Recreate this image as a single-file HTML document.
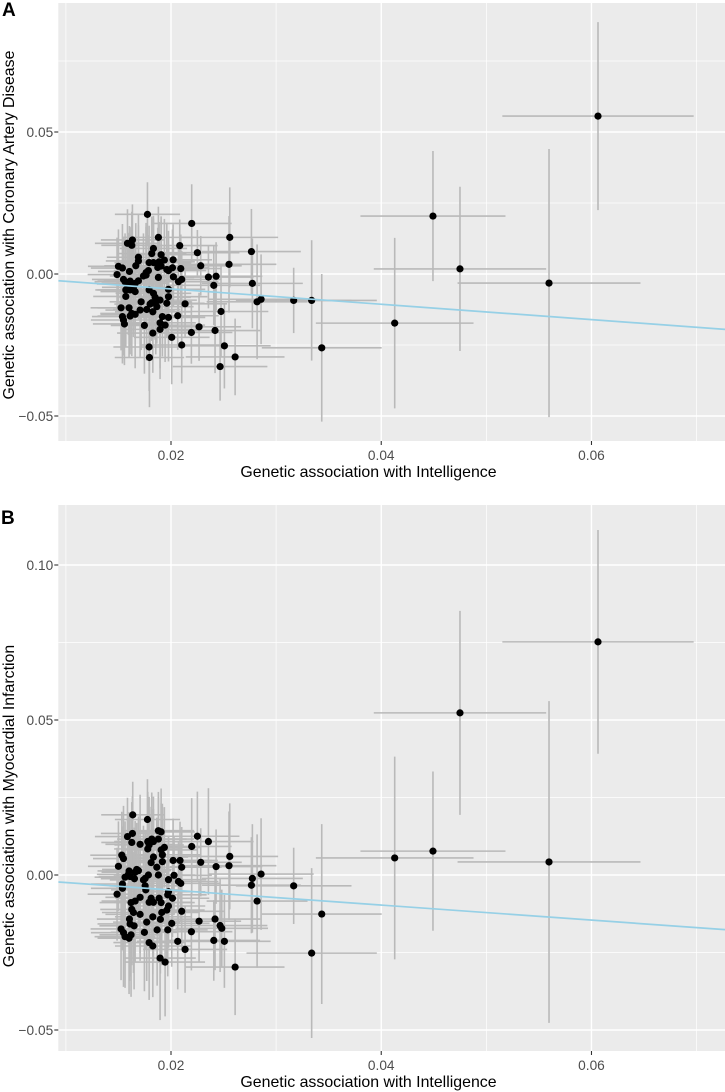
<!DOCTYPE html>
<html>
<head>
<meta charset="utf-8">
<title>Genetic association scatter plots</title>
<style>
html,body{margin:0;padding:0;background:#fff;width:725px;height:1092px;overflow:hidden}
svg{display:block}
text{font-family:"Liberation Sans",sans-serif}
.tick{font-size:13.7px;fill:#4D4D4D}
.title{font-size:15.9px;fill:#000}
.tag{font-size:19px;font-weight:bold;fill:#000}
</style>
</head>
<body>
<svg id="chart" width="725" height="1092" viewBox="0 0 725 1092" xmlns="http://www.w3.org/2000/svg">
<defs>
<clipPath id="clip-a"><rect x="58.3" y="3" width="666.7" height="438"/></clipPath>
<clipPath id="clip-b"><rect x="58.3" y="505" width="666.7" height="546"/></clipPath>
</defs>
<g id="panel-a"></g>
<g id="panel-b"></g>
<text class="tag" x="2" y="16">A</text>
<text class="tag" x="1" y="524">B</text>
<text class="title" x="368.5" y="477" text-anchor="middle">Genetic association with Intelligence</text>
<text class="title" x="368.5" y="1087" text-anchor="middle">Genetic association with Intelligence</text>
<text class="title" x="0" y="0" text-anchor="middle" transform="translate(14,225) rotate(-90)">Genetic association with Coronary Artery Disease</text>
<text class="title" x="0" y="0" text-anchor="middle" transform="translate(14,806) rotate(-90)">Genetic association with Myocardial Infarction</text>
</svg>
<script>
var xMajorTicks = [0.02, 0.04, 0.06];
var xMinorTicks = [0.01, 0.03, 0.05, 0.07];
var xTickLabels = ["0.02", "0.04", "0.06"];

var aYMajorTicks = [0.05, 0, -0.05];
var aYMinorTicks = [0.075, 0.025, -0.025];
var aYTickLabels = ["0.05", "0.00", "\u22120.05"];
var aSlope = -0.27;
var aIntercept = 0.00014;

var bYMajorTicks = [0.10, 0.05, 0, -0.05];
var bYMinorTicks = [0.075, 0.025, -0.025];
var bYTickLabels = ["0.10", "0.05", "0.00", "\u22120.05"];
var bSlope = -0.2425;
var bIntercept = 0;

var aX = [
.01776,.02197,.0188,.02559,.01633,.01586,.01627,.02083,.01833,.01817,
.02251,.02765,.01906,.0169,.0202,.01937,.01792,.01833,.01887,.0169,
.02552,.02283,.01665,.015,.01538,.01906,.01874,.02093,.02014,.0196,
.01976,.01605,.01785,.01763,.01487,.01738,.0188,.02023,.01763,.02356,
.02429,.02102,.02071,.01548,.01563,.01611,.0169,.01659,.01595,.02774,
.02407,.01643,.01611,.0157,.01659,.01976,.01792,.01833,.0157,.01976,
.01849,.01716,.01817,.01896,.0196,.01855,.02134,.02857,.02819,.01525,
.01601,.01801,.01865,.01706,.01769,.01827,.01627,.01659,.01611,.02476,
.01538,.01548,.01918,.01976,.02064,.01557,.01747,.01944,.01896,.01896,
.02267,.02419,.01827,.02194,.02007,.02102,.02508,.01792,.01795,.0261,
.02467,.03167,.03338,.03434,.04128,.04492,.04749,.05596,.06062];
var aY = [
.0210,.0178,.0129,.0129,.0120,.0108,.0101,.0100,.0090,.0072,
.0075,.0079,.0068,.0059,.0050,.0049,.0040,.0040,.0043,.0046,
.0034,.0029,.0029,.0027,.0021,.0028,.0023,.0019,.0022,.0016,
.0012,.0009,.0012,.0005,-.0002,-.0007,-.0012,-.0010,-.0004,-.0011,
-.0008,-.0019,-.0027,-.0019,-.0027,-.0025,-.0024,-.0033,-.0035,-.0033,
-.0040,-.0047,-.0056,-.0056,-.0062,-.0054,-.0056,-.0068,-.0079,-.0080,
-.0082,-.0098,-.0101,-.0092,-.0103,-.0098,-.0105,-.0089,-.0098,-.0119,
-.0119,-.0106,-.0115,-.0127,-.0125,-.0133,-.0139,-.0142,-.0148,-.0132,
-.0150,-.0162,-.0150,-.0153,-.0147,-.0176,-.0181,-.0180,-.0172,-.0195,
-.0186,-.0199,-.0208,-.0206,-.0223,-.0250,-.0253,-.0257,-.0294,-.0292,
-.0326,-.0093,-.0093,-.0260,-.0173,.0204,.0018,-.0032,.0556];
var aXErr = [
.0031,.0038,.0034,.0046,.0030,.0031,.0029,.0036,.0032,.0033,
.0040,.0047,.0032,.0030,.0037,.0035,.0033,.0036,.0034,.0031,
.0045,.0039,.0030,.0029,.0030,.0036,.0033,.0038,.0035,.0034,
.0036,.0030,.0033,.0031,.0028,.0032,.0034,.0036,.0030,.0043,
.0044,.0037,.0038,.0030,.0029,.0031,.0033,.0032,.0030,.0048,
.0044,.0030,.0031,.0029,.0033,.0035,.0032,.0036,.0031,.0037,
.0034,.0030,.0033,.0035,.0036,.0034,.0040,.0050,.0048,.0029,
.0030,.0034,.0035,.0033,.0032,.0036,.0030,.0033,.0031,.0045,
.0029,.0031,.0036,.0035,.0039,.0030,.0032,.0038,.0034,.0037,
.0040,.0043,.0034,.0039,.0036,.0040,.0044,.0034,.0033,.0047,
.0045,.0055,.0062,.0057,.0075,.0069,.0082,.0087,.0091];
var aYErr = [
.0113,.0138,.0108,.0176,.0125,.0120,.0118,.0092,.0115,.0130,
.0080,.0150,.0135,.0150,.0125,.0145,.0130,.0155,.0140,.0125,
.0170,.0105,.0150,.0130,.0155,.0160,.0140,.0120,.0135,.0165,
.0140,.0160,.0125,.0175,.0130,.0150,.0120,.0105,.0170,.0110,
.0120,.0100,.0125,.0150,.0170,.0190,.0135,.0160,.0180,.0158,
.0140,.0175,.0195,.0150,.0130,.0145,.0165,.0125,.0180,.0140,
.0150,.0170,.0135,.0160,.0120,.0185,.0115,.0158,.0202,.0150,
.0175,.0145,.0130,.0165,.0180,.0120,.0150,.0190,.0135,.0160,
.0165,.0125,.0140,.0155,.0120,.0145,.0170,.0130,.0160,.0175,
.0120,.0150,.0140,.0110,.0165,.0135,.0150,.0155,.0175,.0135,
.0120,.0115,.0212,.0260,.0300,.0229,.0289,.0472,.0331];

var bX = [
.01636,.01776,.0188,.01906,.01633,.01586,.02251,.0188,.01817,.01779,
.01627,.01706,.02356,.01833,.01792,.02197,.01779,.01937,.01906,.01918,
.02559,.01532,.01548,.01833,.0202,.01918,.02086,.01811,.02283,.02102,
.02552,.02429,.015,.01865,.01601,.01674,.0169,.02857,.01659,.01595,
.0188,.02029,.01563,.01785,.01754,.01611,.01652,.01976,.02774,.02071,
.02093,.01738,.01538,.02765,.01538,.01754,.0176,.01976,.01487,.01969,
.02014,.01706,.01659,.0162,.01811,.01887,.02819,.01792,.01906,.01833,
.01976,.0196,.01627,.02102,.01912,.01643,.01706,.01827,.01605,.02419,
.02267,.01899,.01769,.02007,.01611,.01649,.02467,.02483,.01525,.01868,
.01969,.02194,.01747,.01548,.0162,.01563,.01601,.02407,.02064,.02508,
.01792,.01827,.02134,.01896,.01944,.0261,.03167,.03338,.03434,.04128,
.04492,.04749,.05596,.06062];
var bY = [
.0194,.0179,.0143,.0139,.0134,.0124,.0125,.0116,.0116,.0108,
.0105,.0099,.0108,.0108,.0097,.0092,.0084,.0089,.0081,.0065,
.0060,.0064,.0053,.0058,.0047,.0043,.0047,.0040,.0041,.0025,
.0030,.0027,.0028,.0025,.0013,.0018,.0014,.0003,.0009,.0002,
.0000,-.0001,-.0007,.0000,-.0011,-.0005,-.0012,-.0015,-.0011,-.0021,
-.0027,-.0016,-.0029,-.0033,-.0043,-.0035,-.0048,-.0054,-.0062,-.0064,
-.0075,-.0072,-.0084,-.0089,-.0075,-.0075,-.0084,-.0088,-.0089,-.0088,
-.0100,-.0113,-.0111,-.0117,-.0121,-.0121,-.0127,-.0135,-.0142,-.0142,
-.0149,-.0143,-.0152,-.0156,-.0158,-.0164,-.0163,-.0172,-.0174,-.0177,
-.0177,-.0183,-.0185,-.0186,-.0193,-.0199,-.0204,-.0211,-.0214,-.0214,
-.0218,-.0229,-.0240,-.0268,-.0281,-.0297,-.0035,-.0252,-.0126,.0055,
.0077,.0523,.0042,.0752];
var bXErr = [
.0030,.0031,.0034,.0032,.0030,.0031,.0040,.0034,.0033,.0032,
.0029,.0033,.0043,.0036,.0033,.0038,.0032,.0035,.0034,.0036,
.0046,.0030,.0029,.0033,.0037,.0034,.0036,.0032,.0039,.0038,
.0045,.0044,.0029,.0036,.0030,.0033,.0031,.0050,.0032,.0030,
.0035,.0036,.0029,.0033,.0031,.0030,.0032,.0036,.0048,.0038,
.0037,.0032,.0030,.0047,.0030,.0034,.0033,.0035,.0028,.0037,
.0035,.0033,.0032,.0030,.0034,.0034,.0048,.0033,.0032,.0036,
.0035,.0036,.0030,.0040,.0036,.0030,.0033,.0036,.0031,.0043,
.0040,.0034,.0032,.0036,.0031,.0033,.0045,.0044,.0029,.0035,
.0038,.0039,.0032,.0031,.0030,.0029,.0030,.0044,.0039,.0044,
.0034,.0036,.0040,.0034,.0038,.0047,.0055,.0062,.0057,.0075,
.0069,.0082,.0087,.0091];
var bYErr = [
.0107,.0130,.0125,.0140,.0120,.0125,.0144,.0135,.0150,.0160,
.0130,.0160,.0172,.0145,.0155,.0156,.0175,.0130,.0150,.0165,
.0171,.0140,.0170,.0155,.0135,.0175,.0125,.0180,.0110,.0130,
.0175,.0120,.0145,.0160,.0190,.0150,.0175,.0180,.0165,.0195,
.0155,.0125,.0180,.0170,.0150,.0200,.0165,.0140,.0175,.0130,
.0120,.0175,.0185,.0155,.0200,.0160,.0190,.0140,.0150,.0165,
.0125,.0180,.0195,.0170,.0160,.0145,.0215,.0175,.0150,.0190,
.0135,.0160,.0180,.0120,.0170,.0195,.0150,.0185,.0200,.0165,
.0130,.0175,.0190,.0140,.0170,.0205,.0150,.0125,.0165,.0180,
.0150,.0125,.0190,.0175,.0200,.0165,.0180,.0130,.0155,.0150,
.0185,.0165,.0140,.0200,.0175,.0155,.0123,.0274,.0290,.0327,
.0257,.0329,.0519,.0361];

var NS = "http://www.w3.org/2000/svg";
var LEFT = 58.3, RIGHT = 725;

function xScale(v) { return 171 + (v - 0.02) * 10512; }
function xInvert(p) { return 0.02 + (p - 171) / 10512; }

function make(parent, tag, attrs) {
  var el = document.createElementNS(NS, tag);
  for (var k in attrs) el.setAttribute(k, attrs[k]);
  parent.appendChild(el);
  return el;
}

function drawPanel(cfg) {
  var g = document.getElementById(cfg.id);
  var y = cfg.yScale;
  var clip = "url(#" + cfg.clip + ")";

  var bg = make(g, "rect", {x: LEFT, y: cfg.top, width: RIGHT - LEFT, height: cfg.bottom - cfg.top, fill: "#EBEBEB"});
  
  

  var grid = make(g, "g", {stroke: "#fff", fill: "none", "clip-path": clip});
  
  
  cfg.xMinor.forEach(function (t) {
    make(grid, "line", {x1: xScale(t), x2: xScale(t), y1: cfg.top, y2: cfg.bottom, "stroke-width": 0.7});
  });
  cfg.yMinor.forEach(function (t) {
    make(grid, "line", {x1: LEFT, x2: RIGHT, y1: y(t), y2: y(t), "stroke-width": 0.7});
  });
  cfg.xMajor.forEach(function (t) {
    make(grid, "line", {x1: xScale(t), x2: xScale(t), y1: cfg.top, y2: cfg.bottom, "stroke-width": 1.4});
  });
  cfg.yMajor.forEach(function (t) {
    make(grid, "line", {x1: LEFT, x2: RIGHT, y1: y(t), y2: y(t), "stroke-width": 1.4});
  });

  var bars = make(g, "g", {stroke: "#B9B9B9", "stroke-width": 1.6, fill: "none", "clip-path": clip});
  
  
  cfg.xs.forEach(function (xv, i) {
    var yv = cfg.ys[i];
    make(bars, "line", {x1: xScale(xv - cfg.xe[i]), x2: xScale(xv + cfg.xe[i]), y1: y(yv), y2: y(yv)});
    make(bars, "line", {x1: xScale(xv), x2: xScale(xv), y1: y(yv - cfg.ye[i]), y2: y(yv + cfg.ye[i])});
  });

  var pts = make(g, "g", {fill: "#000", "clip-path": clip});
  
  
  cfg.xs.forEach(function (xv, i) {
    var c = make(pts, "circle", {cx: xScale(xv), cy: y(cfg.ys[i]), r: 3.6});
    
    
  });

  var xa = xInvert(LEFT), xb = xInvert(RIGHT);
  var fit = make(g, "line", {
    x1: LEFT, x2: RIGHT,
    y1: y(cfg.intercept + cfg.slope * xa),
    y2: y(cfg.intercept + cfg.slope * xb),
    stroke: "#96D0E6", "stroke-width": 1.7, "clip-path": clip
  });
  
  

  var axis = make(g, "g", {});
  
  
  cfg.xMajor.forEach(function (t, i) {
    make(axis, "line", {x1: xScale(t), x2: xScale(t), y1: cfg.bottom, y2: cfg.bottom + 4, stroke: "#333", "stroke-width": 1.1});
    var lab = make(axis, "text", {"class": "tick", x: xScale(t), y: cfg.bottom + 19, "text-anchor": "middle"});
    lab.textContent = xTickLabels[i];
    
    
  });
  cfg.yMajor.forEach(function (t, i) {
    make(axis, "line", {x1: LEFT - 4, x2: LEFT, y1: y(t), y2: y(t), stroke: "#333", "stroke-width": 1.1});
    var lab = make(axis, "text", {"class": "tick", x: 53.2, y: y(t) + 4.9, "text-anchor": "end"});
    lab.textContent = cfg.yLabels[i];
    
    
  });
}

drawPanel({
  id: "panel-a", clip: "clip-a", top: 3, bottom: 441,
  yScale: function (v) { return 274 - v * 2840; },
  xMajor: xMajorTicks, xMinor: xMinorTicks,
  yMajor: aYMajorTicks, yMinor: aYMinorTicks, yLabels: aYTickLabels,
  xs: aX, ys: aY, xe: aXErr, ye: aYErr,
  slope: aSlope, intercept: aIntercept
});
drawPanel({
  id: "panel-b", clip: "clip-b", top: 505, bottom: 1051,
  yScale: function (v) { return 875 - v * 3100; },
  xMajor: xMajorTicks, xMinor: xMinorTicks,
  yMajor: bYMajorTicks, yMinor: bYMinorTicks, yLabels: bYTickLabels,
  xs: bX, ys: bY, xe: bXErr, ye: bYErr,
  slope: bSlope, intercept: bIntercept
});
</script>
</body>
</html>
